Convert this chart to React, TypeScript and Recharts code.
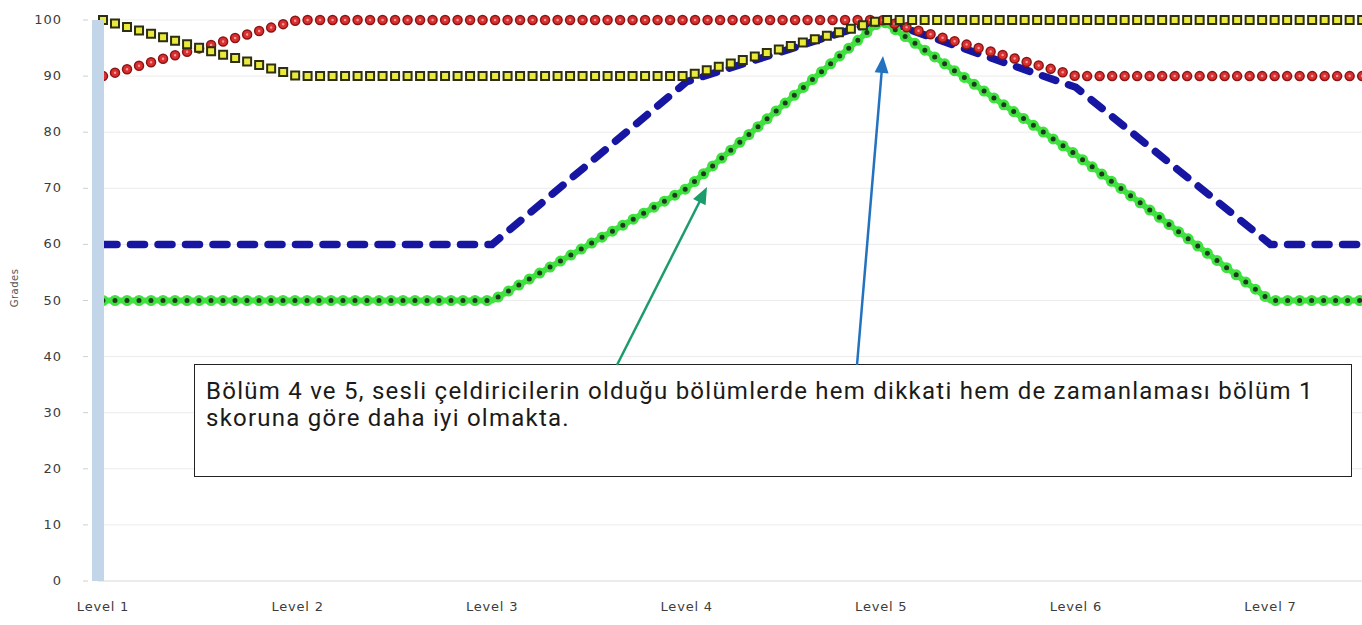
import { CartesianGrid, Line, LineChart, XAxis, YAxis } from 'recharts'

// chart values
const levels = ['Level 1', 'Level 2', 'Level 3', 'Level 4', 'Level 5', 'Level 6', 'Level 7', 'Level 8']
const yellowScores = [100, 90, 90, 90, 100, 100, 100, 100]
const redScores = [90, 100, 100, 100, 100, 90, 90, 90]
const blueScores = [60, 60, 60, 89, 100, 88, 60, 60]
const greenScores = [50, 50, 50, 70, 100, 76, 50, 50]
const gradeTicks = [0, 10, 20, 30, 40, 50, 60, 70, 80, 90, 100]

const noteText = 'Bölüm 4 ve 5, sesli çeldiricilerin olduğu bölümlerde hem dikkati hem de zamanlaması bölüm 1 skoruna göre daha iyi olmakta.'

const chartData = levels.map((level, i) => ({
  level,
  yellow: yellowScores[i],
  red: redScores[i],
  blue: blueScores[i],
  green: greenScores[i],
}))

const axisFont = '"DejaVu Sans", Verdana, sans-serif'

interface TickProps {
  x?: number
  y?: number
  payload?: { value: string | number }
}

const GradeTick = ({ y = 0, payload }: TickProps) => (
  <g>
    <text x={62} y={y} dy={4} textAnchor="end" fill="#3c3c3c" fontSize={13} fontFamily={axisFont} letterSpacing={1}>
      {payload?.value}
    </text>
    <line x1={83} x2={88} y1={y} y2={y} stroke="#cfcfcf" />
  </g>
)

const LevelTick = ({ x = 0, payload }: TickProps) => {
  // the last level runs off the right edge of the picture
  if (x > 1330) return null
  return (
    <text x={x} y={611} textAnchor="middle" fill="#3c3c3c" fontSize={13} fontFamily={axisFont} letterSpacing={0.8}>
      {payload?.value}
    </text>
  )
}

const GradesLabel = () => (
  <text x={18} y={288} transform="rotate(-90 18 288)" textAnchor="middle" fill="#555" fontSize={10} fontFamily={axisFont} letterSpacing={0.5}>
    Grades
  </text>
)

const arrowHead = (x1: number, y1: number, x2: number, y2: number, len: number, half: number) => {
  const dx = x2 - x1
  const dy = y2 - y1
  const d = Math.hypot(dx, dy)
  const ux = dx / d
  const uy = dy / d
  const bx = x2 - ux * len
  const by = y2 - uy * len
  return `${x2},${y2} ${bx - uy * half},${by + ux * half} ${bx + uy * half},${by - ux * half}`
}

const Arrow = ({ x1, y1, x2, y2, color }: { x1: number; y1: number; x2: number; y2: number; color: string }) => {
  const d = Math.hypot(x2 - x1, y2 - y1)
  const sx = x2 - ((x2 - x1) / d) * 12
  const sy = y2 - ((y2 - y1) / d) * 12
  return (
    <g>
      <line x1={x1} y1={y1} x2={sx} y2={sy} stroke={color} strokeWidth={2.5} />
      <polygon points={arrowHead(x1, y1, x2, y2, 17, 7)} fill={color} />
    </g>
  )
}

export default function App() {
  return (
    <div style={{ position: 'absolute', left: 0, top: 0, width: 1362, height: 625, overflow: 'hidden', background: '#fff' }}>
      <LineChart width={1475} height={625} data={chartData} margin={{ top: 20, right: 10, left: 0, bottom: 14 }}>
        <CartesianGrid vertical={false} stroke="#ececec" />
        <XAxis
          dataKey="level"
          padding={{ left: 5, right: 0 }}
          axisLine={{ stroke: '#e2e2e2' }}
          tickLine={false}
          tick={<LevelTick />}
          interval={0}
          height={30}
        />
        <YAxis
          domain={[0, 100]}
          ticks={gradeTicks}
          width={98}
          axisLine={{ stroke: '#c3d5e8', strokeWidth: 12 }}
          tickLine={false}
          tick={<GradeTick />}
          label={<GradesLabel />}
        />
        {/* blue: thick dashes */}
        <Line dataKey="blue" type="linear" stroke="#1616a2" strokeWidth={7.5} strokeDasharray="14 13.5" strokeLinecap="round" dot={false} activeDot={false} isAnimationActive={false} />
        {/* green: star markers, green band with dark centres */}
        <Line dataKey="green" type="linear" stroke="#3fe23f" strokeWidth={11} strokeDasharray="0 12" strokeLinecap="round" dot={false} activeDot={false} isAnimationActive={false} />
        <Line dataKey="green" type="linear" stroke="#3fe23f" strokeWidth={6} dot={false} activeDot={false} isAnimationActive={false} />
        <Line dataKey="green" type="linear" stroke="#1d3a1d" strokeWidth={5} strokeDasharray="0 12" strokeLinecap="round" dot={false} activeDot={false} isAnimationActive={false} />
        {/* red: circle markers */}
        <Line dataKey="red" type="linear" stroke="#8a1515" strokeWidth={10.5} strokeDasharray="0 12.5" strokeLinecap="round" dot={false} activeDot={false} isAnimationActive={false} />
        <Line dataKey="red" type="linear" stroke="#dc2f2f" strokeWidth={7.5} strokeDasharray="0 12.5" strokeLinecap="round" dot={false} activeDot={false} isAnimationActive={false} />
        <Line dataKey="red" type="linear" stroke="#f29a9a" strokeWidth={2.5} strokeDasharray="0 12.5" strokeLinecap="round" dot={false} activeDot={false} isAnimationActive={false} />
        {/* yellow: square markers with dark border */}
        <Line dataKey="yellow" type="linear" stroke="#2e2e10" strokeWidth={10} strokeDasharray="0 12.5" strokeLinecap="square" dot={false} activeDot={false} isAnimationActive={false} />
        <Line dataKey="yellow" type="linear" stroke="#e9ea3c" strokeWidth={6} strokeDasharray="0 12.5" strokeLinecap="square" dot={false} activeDot={false} isAnimationActive={false} />
      </LineChart>

      <div
        style={{
          position: 'absolute',
          left: 194,
          top: 364,
          width: 1158,
          height: 113,
          boxSizing: 'border-box',
          border: '1px solid #222',
          background: '#fff',
          padding: '13px 10px 0 11px',
          fontFamily: 'Roboto, "Noto Sans", sans-serif',
          fontSize: 24,
          letterSpacing: 1.25,
          lineHeight: '27px',
          color: '#1a1a1a',
        }}
      >
        {noteText}
      </div>

      <svg width={1362} height={625} style={{ position: 'absolute', left: 0, top: 0, pointerEvents: 'none' }}>
        <Arrow x1={617} y1={365} x2={707} y2={187} color="#1c9c6c" />
        <Arrow x1={857} y1={365} x2={883} y2={56} color="#2272c0" />
      </svg>
    </div>
  )
}
